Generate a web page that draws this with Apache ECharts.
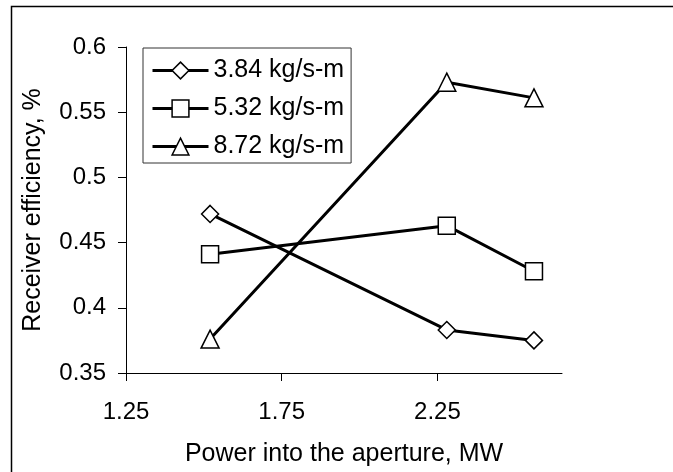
<!DOCTYPE html>
<html>
<head>
<meta charset="utf-8">
<script src="https://cdn.jsdelivr.net/npm/echarts@6/dist/echarts.min.js"></script>
<style>
html,body{margin:0;padding:0;background:#fff;}
#chart{width:673px;height:472px;}
</style>
</head>
<body>
<div id="chart"></div>
<script>
const powerX = [1.52, 2.28, 2.56];
const eff384 = [0.472, 0.383, 0.375];
const eff532 = [0.441, 0.463, 0.428];
const eff872 = [0.376, 0.573, 0.561];
const seriesNames = ['3.84 kg/s-m', '5.32 kg/s-m', '8.72 kg/s-m'];
const xTicks = [1.25, 1.75, 2.25];
const yTicks = [0.35, 0.4, 0.45, 0.5, 0.55, 0.6];

const FONT = '"Liberation Sans", Arial, sans-serif';
function pts(vals) { return powerX.map((x, i) => [x, vals[i]]); }
function mk(name, vals, symbol, size) {
  return {
    name: name, type: 'line', data: pts(vals),
    symbol: symbol, symbolSize: size, showSymbol: true,
    lineStyle: { color: '#000', width: 3 },
    itemStyle: { color: '#fff', borderColor: '#000', borderWidth: 1.5 },
    emphasis: { disabled: true }, animation: false
  };
}
const chart = echarts.init(document.getElementById('chart'), null, { renderer: 'canvas' });
chart.setOption({
  backgroundColor: '#fff',
  animation: false,
  textStyle: { fontFamily: FONT },
  graphic: [{
    type: 'rect', shape: { x: 11.5, y: 6.5, width: 700, height: 500 },
    style: { fill: 'none', stroke: '#000', lineWidth: 1.5 }, silent: true
  }],
  grid: { left: 126, top: 47, right: 111, bottom: 98, containLabel: false },
  legend: {
    left: 143, top: 48, orient: 'vertical',
    padding: [10, 7, 4, 8], itemGap: 13, itemWidth: 56, itemHeight: 21,
    borderColor: '#333', borderWidth: 1, backgroundColor: '#fff',
    lineStyle: { color: '#000', width: 3 },
    itemStyle: { color: '#fff', borderColor: '#000', borderWidth: 1.5 },
    textStyle: { fontSize: 25, color: '#000', fontFamily: FONT, lineHeight: 25 },
    data: seriesNames
  },
  xAxis: {
    type: 'value', min: 1.25, max: 2.65,
    name: 'Power into the aperture, MW', nameLocation: 'middle', nameGap: 69,
    nameTextStyle: { fontSize: 25, color: '#000', fontFamily: FONT },
    axisLine: { onZero: false, lineStyle: { color: '#000', width: 1 } },
    axisTick: { show: true, length: 8, inside: false, customValues: xTicks, lineStyle: { color: '#000' } },
    axisLabel: { fontSize: 24, color: '#000', margin: 27, customValues: xTicks, fontFamily: FONT },
    splitLine: { show: false }
  },
  yAxis: {
    type: 'value', min: 0.35, max: 0.6,
    name: 'Receiver efficiency, %', nameLocation: 'middle', nameGap: 80, nameRotate: 90,
    nameTextStyle: { fontSize: 25, color: '#000', fontFamily: FONT },
    axisLine: { show: true, onZero: false, lineStyle: { color: '#000', width: 1 } },
    axisTick: { show: true, length: 8, inside: false, customValues: yTicks, lineStyle: { color: '#000' } },
    axisLabel: { fontSize: 24, color: '#000', margin: 20, customValues: yTicks, fontFamily: FONT },
    splitLine: { show: false }
  },
  series: [
    mk(seriesNames[0], eff384, 'diamond', 17),
    mk(seriesNames[1], eff532, 'rect', 17),
    mk(seriesNames[2], eff872, 'triangle', 18)
  ]
});
</script>
</body>
</html>
